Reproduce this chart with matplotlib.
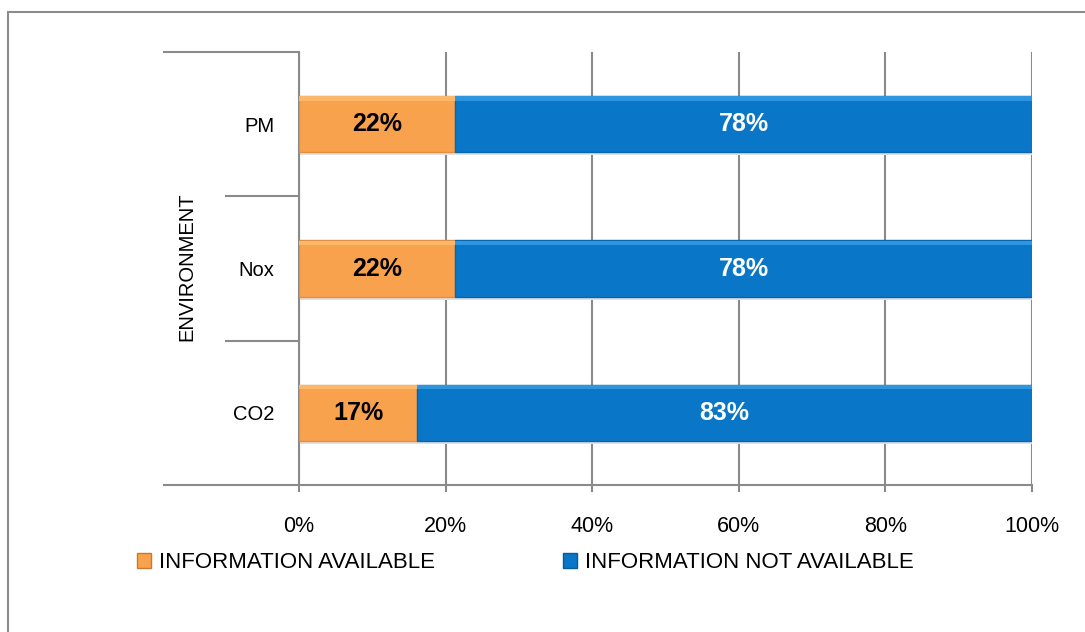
import matplotlib
matplotlib.use("Agg")
import matplotlib.pyplot as plt
from matplotlib.patches import Rectangle, Patch
import numpy as np

plt.rcParams["font.family"] = ["Liberation Sans", "DejaVu Sans"]

# Данные
categories = ["CO2", "Nox", "PM"]
available = [16.1, 21.3, 21.3]
not_available = [83.9, 78.7, 78.7]
available_labels = ["17%", "22%", "22%"]
not_available_labels = ["83%", "78%", "78%"]
group_label = "ENVIRONMENT"
x_ticks = [0, 20, 40, 60, 80, 100]
legend_labels = ["INFORMATION AVAILABLE", "INFORMATION NOT AVAILABLE"]

orange = "#F9A24E"
blue = "#0A76C8"
grid_gray = "#8A8A8A"

fig = plt.figure(figsize=(10.85, 6.32), dpi=100)
ax = fig.add_axes([299 / 1085, 1 - 485 / 632, 733 / 1085, 433 / 632])

y = np.arange(len(categories))
h = 0.39

# тень под столбцами
ax.barh(y - 0.02, np.add(available, not_available), height=h, color="#e2e2e2",
        zorder=2)
ax.barh(y, available, height=h, color=orange, edgecolor="#e08f42", linewidth=1,
        zorder=3)
ax.barh(y, not_available, left=available, height=h, color=blue,
        edgecolor="#0866b0", linewidth=1, zorder=3)
# светлая полоска сверху (блик)
ax.barh(y + h / 2 - 0.018, available, height=0.03, color="#FBB76A", zorder=4)
ax.barh(y + h / 2 - 0.018, not_available, left=available, height=0.03,
        color="#2E95E0", zorder=4)

for i in range(len(categories)):
    ax.text(available[i] / 2, y[i], available_labels[i], ha="center",
            va="center", fontsize=18, fontweight="bold", color="black", zorder=5)
    ax.text(available[i] + not_available[i] / 2, y[i], not_available_labels[i],
            ha="center", va="center", fontsize=18, fontweight="bold",
            color="white", zorder=5)

ax.set_xlim(0, 100)
ax.set_ylim(-0.5, len(categories) - 0.5)
ax.set_xticks(x_ticks)
ax.set_xticklabels([f"{t}%" for t in x_ticks], fontsize=15.5)
ax.set_yticks(y)
ax.set_yticklabels(categories, fontsize=14.5)
ax.tick_params(axis="x", length=5, color=grid_gray, width=1.5, pad=17)
ax.tick_params(axis="y", length=0, pad=18)

for s in ["top", "right", "bottom"]:
    ax.spines[s].set_visible(False)
ax.spines["left"].set_color(grid_gray)
ax.spines["left"].set_linewidth(1.5)

ax.xaxis.grid(True, color=grid_gray, linewidth=1.5, zorder=0)
ax.set_axisbelow(True)

# линии многоуровневой оси категорий
tr = ax.get_yaxis_transform()
left_outer = (164 - 299) / 733
left_inner = (226 - 299) / 733
ax.plot([left_outer, 1], [-0.5, -0.5], transform=tr, color=grid_gray,
        linewidth=1.5, clip_on=False, zorder=1)
ax.plot([left_outer, 0], [len(categories) - 0.5] * 2, transform=tr,
        color=grid_gray, linewidth=1.5, clip_on=False)
for k in range(1, len(categories)):
    ax.plot([left_inner, 0], [k - 0.5] * 2, transform=tr, color=grid_gray,
            linewidth=1.5, clip_on=False)

fig.text(187 / 1085, 1 - 267 / 632, group_label, rotation=90, ha="center",
         va="center", fontsize=14.5)

# легенда
h1 = Patch(facecolor=orange, edgecolor="#c97a30")
h2 = Patch(facecolor=blue, edgecolor="#075a9c")
for handle, label, xpos in [(h1, legend_labels[0], 137), (h2, legend_labels[1], 563)]:
    leg = fig.legend(handles=[handle], labels=[label], loc="center left",
                     bbox_to_anchor=(xpos / 1085, 1 - 563 / 632), frameon=False,
                     fontsize=16, borderpad=0, borderaxespad=0,
                     handlelength=0.65, handleheight=0.65, handletextpad=0.35)

# рамка вокруг диаграммы
fig.patches.append(Rectangle((8 / 1085, -0.1), 1.2, 1 - 12 / 632 + 0.1,
                             transform=fig.transFigure, fill=False,
                             edgecolor="#8c8c8c", linewidth=1.5))

fig.savefig("out.png", dpi=100)
